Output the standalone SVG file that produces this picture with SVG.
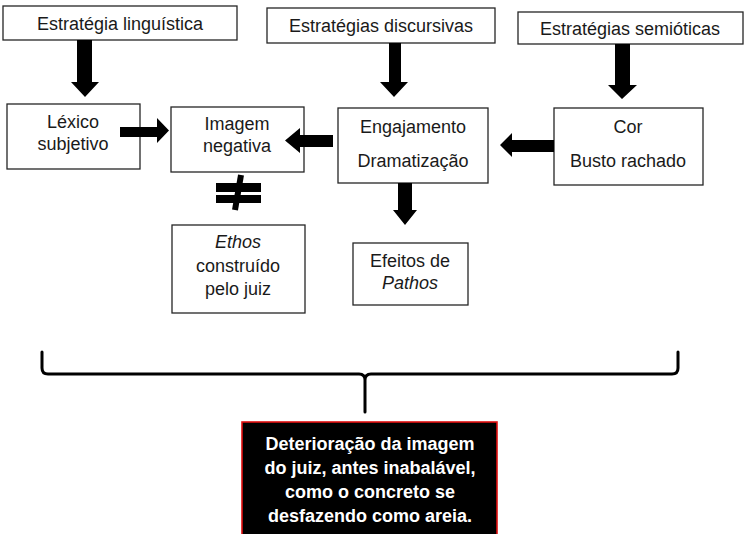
<svg xmlns="http://www.w3.org/2000/svg" width="744" height="534" viewBox="0 0 744 534">
<style>
.box{fill:#fff;stroke:#262626;stroke-width:1.3}
.t{font-family:"Liberation Sans",Arial,sans-serif;font-size:18px;fill:#1a1a1a;text-anchor:middle}
.i{font-style:italic}
.w{font-family:"Liberation Sans",Arial,sans-serif;font-size:18px;font-weight:bold;fill:#fff;text-anchor:middle}
.ar{fill:#000}
.br{fill:none;stroke:#000;stroke-width:3;stroke-linejoin:round;stroke-linecap:round}
</style>
<rect width="744" height="534" fill="#fff"/>
<g id="n-linguistica"><rect class="box" x="3" y="6" width="234" height="34"/><text class="t" x="120" y="30">Estratégia linguística</text></g>
<g id="n-discursivas"><rect class="box" x="267" y="8" width="228" height="35"/><text class="t" x="381" y="32">Estratégias discursivas</text></g>
<g id="n-semioticas"><rect class="box" x="518" y="12" width="225" height="32"/><text class="t" x="630" y="35">Estratégias semióticas</text></g>
<g id="n-lexico"><rect class="box" x="7" y="104" width="133" height="65"/><text class="t" x="73" y="128">Léxico</text><text class="t" x="73" y="150">subjetivo</text></g>
<g id="n-imagem"><rect class="box" x="171" y="107" width="133" height="65"/><text class="t" x="237" y="130">Imagem</text><text class="t" x="237" y="152">negativa</text></g>
<g id="n-engajamento"><rect class="box" x="338" y="108" width="150" height="75"/><text class="t" x="413" y="133">Engajamento</text><text class="t" x="413" y="167">Dramatização</text></g>
<g id="n-cor"><rect class="box" x="554" y="108" width="149" height="77"/><text class="t" x="628" y="133">Cor</text><text class="t" x="628" y="167">Busto rachado</text></g>
<g id="n-ethos"><rect class="box" x="172" y="225" width="133" height="88"/><text class="t i" x="238" y="248">Ethos</text><text class="t" x="238" y="272">construído</text><text class="t" x="238" y="295">pelo juiz</text></g>
<g id="n-pathos"><rect class="box" x="353" y="243" width="115" height="62"/><text class="t" x="410" y="267">Efeitos de</text><text class="t i" x="410" y="289">Pathos</text></g>
<g id="n-conclusao"><rect x="242" y="422" width="255" height="118" fill="#000" stroke="#e01010" stroke-width="1.6"/>
<text class="w" x="370" y="450">Deterioração da imagem</text>
<text class="w" x="370" y="474">do juiz, antes inabalável,</text>
<text class="w" x="370" y="498">como o concreto se</text>
<text class="w" x="370" y="522">desfazendo como areia.</text></g>
<g id="connectors">
<polygon class="ar" points="77,40 92,40 92,82 99,82 85,97 71,82 77,82"/>
<polygon class="ar" points="389,43 401,43 401,82 408,82 394,97 380,82 389,82"/>
<polygon class="ar" points="615,44 630,44 630,85 637,85 622,99 608,85 615,85"/>
<polygon class="ar" points="120,127 157,127 157,118 169,130.5 157,143 157,137 120,137"/>
<polygon class="ar" points="333,135 300,135 300,128 285,140.5 300,153 300,147 333,147"/>
<polygon class="ar" points="554,140 512,140 512,133 500,145 512,157 512,152 554,152"/>
<polygon class="ar" points="398,183 412,183 412,210 417,210 405,225 393,210 398,210"/>
<g id="neq"><rect class="ar" x="216" y="183" width="45" height="9"/><rect class="ar" x="216" y="195" width="45" height="8"/><line x1="241" y1="175" x2="235" y2="210" stroke="#000" stroke-width="6"/></g>
<path class="br" d="M42,352 L42,368 Q42,374 48,374 L359,374 Q365,374 365,380 L365,412 M678,352 L678,368 Q678,374 672,374 L371,374 Q365,374 365,380"/>
</g>
</svg>
